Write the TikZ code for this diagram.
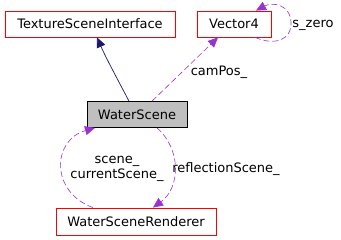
\documentclass[tikz,border=0pt]{standalone}
\usepackage{fontspec}
\setmainfont{DejaVu Sans}
\usepackage{tikz}
\usetikzlibrary{arrows.meta}
\definecolor{edgepurple}{HTML}{9A32CD}
\definecolor{edgeblue}{HTML}{191970}
\definecolor{boxred}{HTML}{FF0000}
\definecolor{boxgray}{HTML}{BFBFBF}

\begin{document}
\begin{tikzpicture}[x=1pt,y=-1pt,
  cls/.style={draw=boxred,line width=0.8pt,fill=white,inner sep=0pt,
    font=\fontsize{13}{15}\selectfont,minimum height=26pt},
  usage/.style={edgepurple,line width=0.6pt,dash pattern=on 6pt off 3pt,
    -{Triangle[length=10pt,width=9pt]}},
  lbl/.style={font=\fontsize{13}{15.5}\selectfont,inner sep=0pt,align=center}]
\useasboundingbox (0,0) rectangle (341,240);

% ── Classes ───────────────────────────────────────────────
\node[cls,minimum width=170pt] (tsi) at (90,24) {TextureSceneInterface};
\node[cls,minimum width=74pt] (vec) at (234,24) {Vector4};
\node[cls,draw=black,fill=boxgray,minimum width=100pt] (ws) at (137,114.5) {WaterScene};
\node[cls,minimum width=160pt,minimum height=27pt] (wsr) at (136,221.5) {WaterSceneRenderer};

% ── Inheritance ───────────────────────────────────────────
\draw[edgeblue,line width=0.7pt,-{Triangle[length=10pt,width=9pt]}]
 ([xshift=-8pt]ws.north) .. controls (120,84) and (106,58) .. ([xshift=7pt]tsi.south);

% ── Usage edges ───────────────────────────────────────────
\draw[usage] ([xshift=15pt]ws.north) -- ([xshift=-16pt]vec.south);
\node[lbl] (campos) at (219,72) {camPos\_};

% self reference on Vector4
\draw[usage] ([xshift=21pt]vec.south) .. controls (275,46) and (292,40) .. (291,22)
 .. controls (290,4) and (272,2) .. ([xshift=22pt]vec.north);
\node[lbl] (szero) at (313,25) {s\_zero};

% renderer <-> scene
\draw[usage] ([xshift=-43pt]wsr.north) .. controls (50,192) and (52,140) .. ([xshift=-42pt]ws.south);
\node[lbl] (scene) at (117,169) {scene\_\\currentScene\_};
\draw[usage] ([xshift=20pt]ws.south) .. controls (182,150) and (180,188) .. ([xshift=17pt]wsr.north);
\node[lbl] (refl) at (226,169) {reflectionScene\_};
\end{tikzpicture}
\end{document}
